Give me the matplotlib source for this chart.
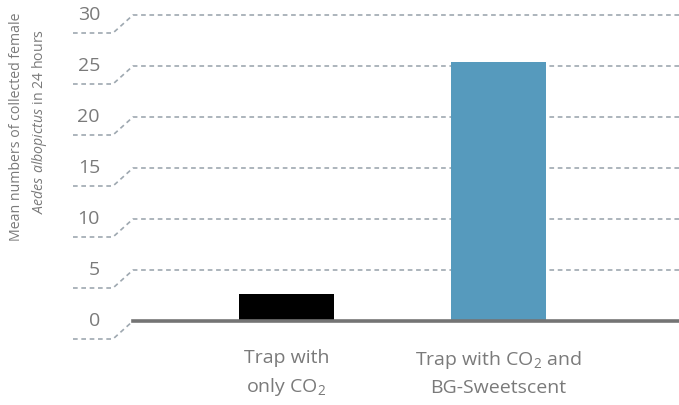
import matplotlib
matplotlib.use("Agg")
import matplotlib.pyplot as plt

# data
categories = ["Trap with\nonly CO$_2$", "Trap with CO$_2$ and\nBG-Sweetscent"]
means = [2.6, 25.4]
bar_colors = ["#000000", "#569abd"]
y_ticks = [0, 5, 10, 15, 20, 25, 30]

plt.rcParams["font.family"] = ["Open Sans", "DejaVu Sans"]
plt.rcParams["mathtext.fontset"] = "custom"
plt.rcParams["mathtext.rm"] = "Open Sans"
plt.rcParams["mathtext.it"] = "Open Sans:italic"

TXT = "#7a7a7a"
GRID = "#9ea8b0"

W, H = 679, 405
fig = plt.figure(figsize=(W / 100, H / 100), dpi=100)

# main axes: x from 135px to 679px, y=0 at 321px, y=30 at 15px
ax = fig.add_axes([135 / W, (H - 321) / H, (W - 135) / W, (321 - 15) / H])
ax.set_xlim(0, 544)
ax.set_ylim(0, 30)
ax.axis("off")

px_per_unit = (321 - 15) / 30.0
drop = 18 / px_per_unit  # left segment sits lower (perspective)

x_pos = [151.5, 363.5]
ax.bar(x_pos, means, width=95, color=bar_colors, zorder=3)

for v in y_ticks:
    if v == 0:
        xs = [-62, -22, -2]
        ys = [v - drop, v - drop, v]
    else:
        xs = [-62, -22, -2, 544]
        ys = [v - drop, v - drop, v, v]
    ax.plot(xs, ys, color=GRID, lw=1.2, ls=(0, (2.8, 2.2)), clip_on=False, zorder=1)
    ax.text(-35, v, str(v), ha="right", va="center", fontsize=14,
            color=TXT, clip_on=False)

# baseline
ax.plot([-2, 544], [0, 0], color="#747474", lw=2.6, clip_on=False, zorder=4)

for x, lab in zip(x_pos, categories):
    ax.text(x, -2.7, lab, ha="center", va="top", fontsize=14, color=TXT,
            linespacing=1.6)

fig.text(17 / W, 1 - 127 / H, "Mean numbers of collected female", rotation=90,
         ha="center", va="center", fontsize=10.2, color=TXT)
fig.text(40 / W, 1 - 122 / H, "$\\mathit{Aedes\\ albopictus}$ in 24 hours", rotation=90,
         ha="center", va="center", fontsize=10.2, color=TXT)

fig.savefig("out.png", dpi=100)
